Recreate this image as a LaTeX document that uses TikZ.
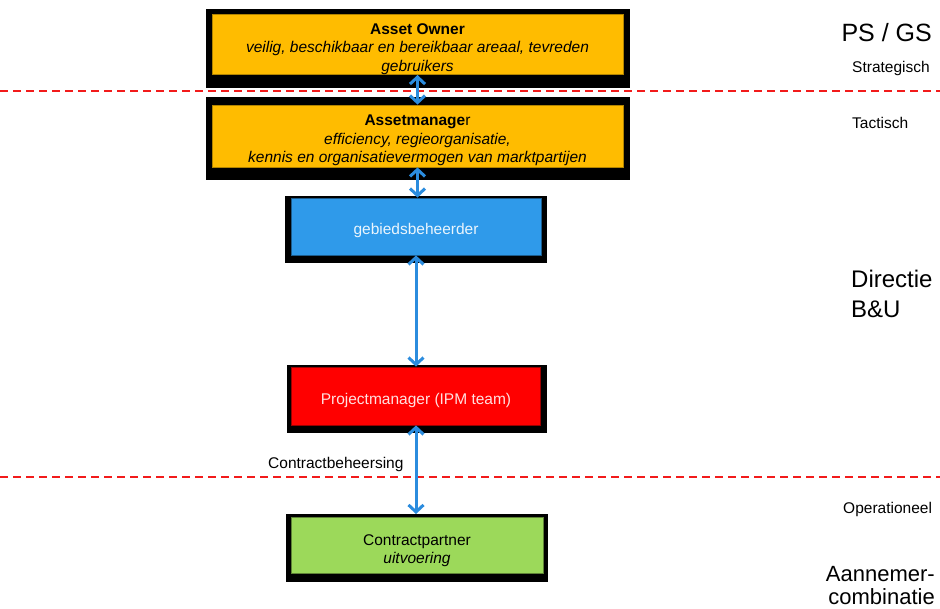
\documentclass[tikz,border=0pt]{standalone}
\usepackage{fontspec}
\setmainfont{Liberation Sans}
\usepackage{tikz}
\usetikzlibrary{arrows.meta,positioning,calc}
\definecolor{ownerfill}{HTML}{FFBC00}
\definecolor{gebiedfill}{HTML}{2F9AEA}
\definecolor{pmfill}{HTML}{FF0000}
\definecolor{partnerfill}{HTML}{9CD95A}
\definecolor{linkblue}{HTML}{2B8CDE}
\definecolor{levelred}{HTML}{F21B1B}
\newcommand{\boxfont}{\fontsize{15.5}{18.5}\selectfont}
\newcommand{\smallfont}{\fontsize{15.5}{18}\selectfont}
\newcommand{\bigfont}{\fontsize{24}{30}\selectfont}
\newcommand{\mediumfont}{\fontsize{22}{26}\selectfont}
\newcommand{\lift}{\rule{0pt}{20pt}}
\tikzset{
  backdrop/.style = {fill=black,draw=none,inner sep=0pt,anchor=north west},
  tier/.style     = {draw,line width=0.8pt,inner sep=0pt,align=center,font=\boxfont},
  ownerbox/.style = {tier,fill=ownerfill,draw=ownerfill!70!black,text=black},
  gebiedbox/.style= {tier,fill=gebiedfill,draw=gebiedfill!60!black,text=white!90!gebiedfill},
  pmbox/.style    = {tier,fill=pmfill,draw=pmfill!60!black,text=white!88!pmfill},
  partnerbox/.style={tier,fill=partnerfill,draw=partnerfill!60!black,text=black},
  level/.style    = {levelred,line width=1.6pt,dash pattern=on 8pt off 5pt},
  biarrow/.style  = {{Straight Barb[length=7pt,width=15pt,line width=3pt]}-{Straight Barb[length=7pt,width=15pt,line width=3pt]},
                     linkblue,line width=3pt},
  tag/.style      = {inner sep=0pt,font=\smallfont},
  bigtag/.style   = {inner sep=0pt,font=\bigfont},
}
\begin{document}
\begin{tikzpicture}[x=1pt,y=-1pt]
  \useasboundingbox (0,0) rectangle (940,609);
  % black backdrops behind the boxes
  \node[backdrop,minimum width=424pt,minimum height=79pt] (ownerbg) at (206,9) {};
  \node[backdrop,minimum width=424pt,minimum height=83pt] (managerbg) at (206,97) {};
  \node[backdrop,minimum width=262pt,minimum height=67pt] (gebiedbg) at (285,196) {};
  \node[backdrop,minimum width=260pt,minimum height=68pt] (pmbg) at (287,365) {};
  \node[backdrop,minimum width=262pt,minimum height=68pt] (partnerbg) at (286,514) {};

  % level lines
  \draw[level] (0,91) -- (940,91);
  \draw[level] (0,477) -- (940,477);

  % boxes
  \node[ownerbox,minimum width=411pt,minimum height=55pt] (owner) at (417.5,44.5)
    {\lift\textbf{Asset Owner}\\ \textit{veilig, beschikbaar en bereikbaar areaal, tevreden}\\ \textit{gebruikers}};
  \node[ownerbox,minimum width=411pt,minimum height=62pt] (manager) at (417.5,136)
    {\lift\textbf{Assetmanage}r\\ \textit{efficiency, regieorganisatie,}\\ \textit{kennis en organisatievermogen van marktpartijen}};
  \node[gebiedbox,minimum width=250pt,minimum height=57pt] (gebied) at (416,226.5) {\lift gebiedsbeheerder};
  \node[pmbox,minimum width=249pt,minimum height=58pt] (pm) at (416,396) {\lift Projectmanager (IPM team)};
  \node[partnerbox,minimum width=252pt,minimum height=56pt] (partner) at (417,545)
    {\rule{0pt}{22pt}Contractpartner\\ \textit{uitvoering}};

  % links
  \draw[biarrow] (owner.south) -- (owner.south |- manager.north);
  \draw[biarrow] (manager.south) -- (manager.south |- gebied.north);
  \draw[biarrow] (gebied.south) -- (gebied.south |- pm.north);
  \draw[biarrow] (pm.south) -- (pm.south |- partnerbg.north);

  \node[tag,anchor=base west] (beheersing) at (268,468) {Contractbeheersing};

  % side labels
  \node[bigtag,anchor=base east,font=\fontsize{25}{30}\selectfont] (psgs) at (932,42) {PS / GS};
  \node[tag,anchor=base west] (strat) at (852,73) {Strategisch};
  \node[tag,anchor=base west] (tact) at (852,129) {Tactisch};
  \node[bigtag,anchor=base west] (directie) at (851,288) {Directie};
  \node[bigtag,anchor=base west] (bu) at (851,318) {B\&U};
  \node[tag,anchor=base west] (oper) at (843,513) {Operationeel};
  \node[bigtag,anchor=base east,font=\mediumfont] (aannemer) at (935,581) {Aannemer-};
  \node[bigtag,anchor=base east,font=\mediumfont] (combinatie) at (935,604) {combinatie};
\end{tikzpicture}
\end{document}
